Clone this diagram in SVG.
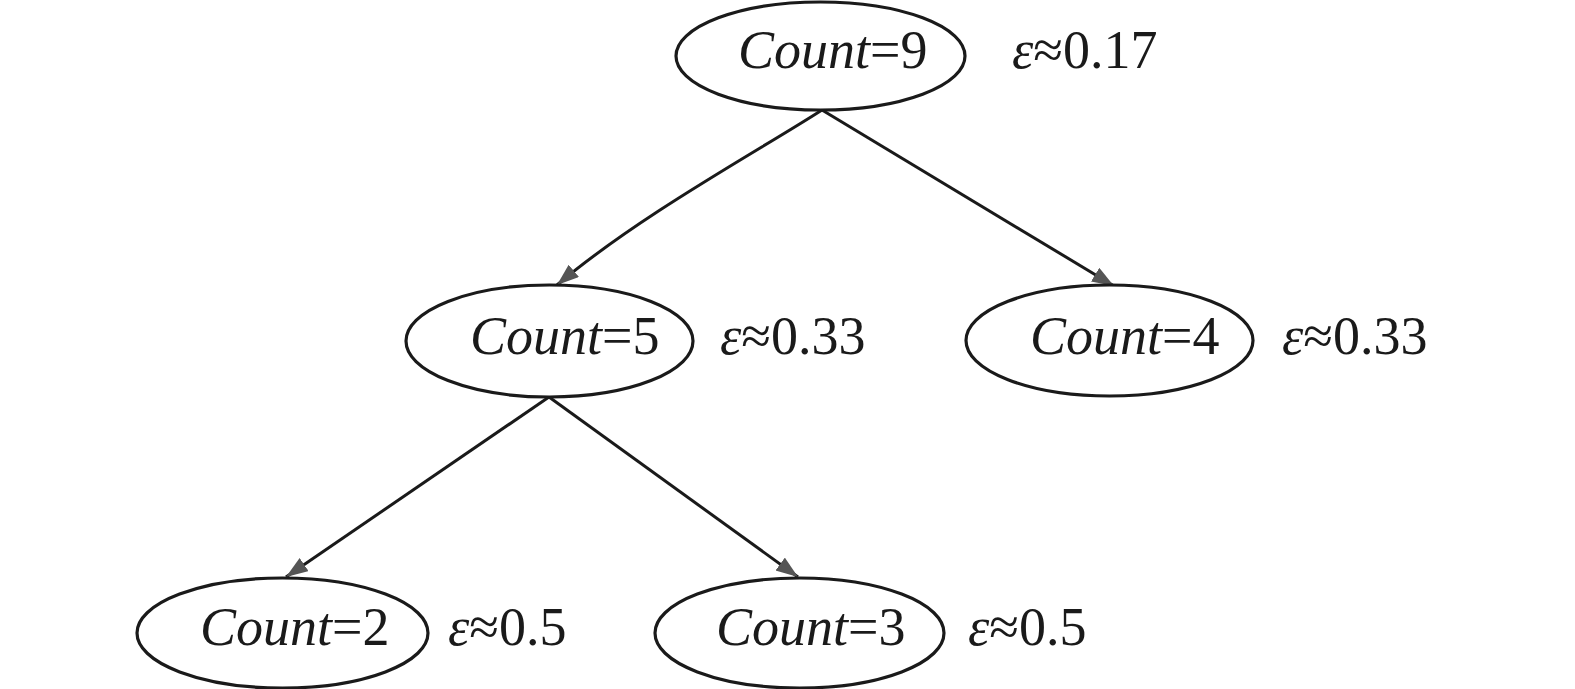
<svg xmlns="http://www.w3.org/2000/svg" width="1575" height="689" viewBox="0 0 1575 689">
<style>
.node ellipse{fill:#fff;stroke:#1a1a1a;stroke-width:3.2}
.lbl{font-family:'Times New Roman','Liberation Serif',Tinos,'DejaVu Serif',serif;font-size:54px;fill:#1a1a1a}
.it{font-style:italic}
.edge{fill:none;stroke:#1a1a1a;stroke-width:3;marker-end:url(#arr)}
</style>
<defs>
<marker id="arr" markerUnits="userSpaceOnUse" markerWidth="24" markerHeight="18" refX="22" refY="8" orient="auto">
<path d="M0,0 L22,8 L0,16 z" fill="#555"/>
</marker>
</defs>
<rect width="1575" height="689" fill="#fff"/>
<g id="connectors">
<path class="edge" d="M822,110 C760,150 640,215 557,285"/>
<path class="edge" d="M822,110 L1114,286"/>
<path class="edge" d="M549,397 L286,577"/>
<path class="edge" d="M549,397 L798,577"/>
</g>
<g id="n9" class="node">
<ellipse cx="820.5" cy="56" rx="144.5" ry="54"/>
<text class="lbl" x="738" y="68"><tspan class="it">Count</tspan>=9</text>
<text class="lbl" x="1012" y="68"><tspan class="it">ε</tspan>≈0.17</text>
</g>
<g id="n5" class="node">
<ellipse cx="549.5" cy="341" rx="143.5" ry="56"/>
<text class="lbl" x="470" y="354"><tspan class="it">Count</tspan>=5</text>
<text class="lbl" x="720" y="354"><tspan class="it">ε</tspan>≈0.33</text>
</g>
<g id="n4" class="node">
<ellipse cx="1109.5" cy="340.5" rx="143.5" ry="55.5"/>
<text class="lbl" x="1030" y="354"><tspan class="it">Count</tspan>=4</text>
<text class="lbl" x="1282" y="354"><tspan class="it">ε</tspan>≈0.33</text>
</g>
<g id="n2" class="node">
<ellipse cx="282.5" cy="633" rx="145.5" ry="55"/>
<text class="lbl" x="200" y="645"><tspan class="it">Count</tspan>=2</text>
<text class="lbl" x="448" y="645"><tspan class="it">ε</tspan>≈0.5</text>
</g>
<g id="n3" class="node">
<ellipse cx="799.5" cy="633" rx="144.5" ry="55"/>
<text class="lbl" x="716" y="645"><tspan class="it">Count</tspan>=3</text>
<text class="lbl" x="968" y="645"><tspan class="it">ε</tspan>≈0.5</text>
</g>
</svg>
